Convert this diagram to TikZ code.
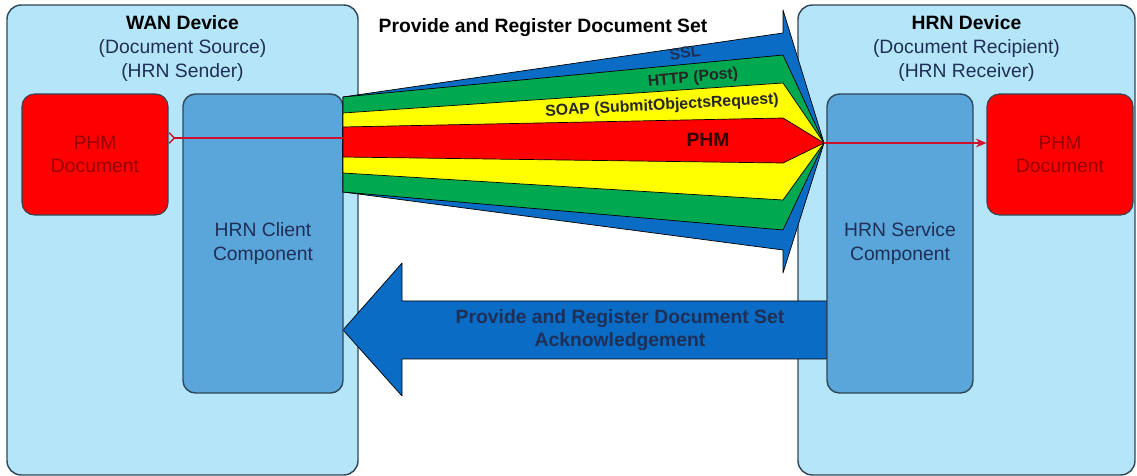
\documentclass[tikz,border=0pt]{standalone}
\usepackage{fontspec}
\setmainfont{Liberation Sans}
\usepackage{xcolor}
\usepackage{tikz}
\usetikzlibrary{arrows.meta, positioning, calc}

\definecolor{devblue}{HTML}{B5E5F9}
\definecolor{compblue}{HTML}{5AA5DA}
\definecolor{edgegray}{HTML}{2E4656}
\definecolor{sslblue}{HTML}{0A6CC4}
\definecolor{httpgreen}{HTML}{00A850}
\definecolor{soapyellow}{HTML}{FFFF00}
\definecolor{phmred}{HTML}{FF0000}
\definecolor{navytext}{HTML}{1F2F55}
\definecolor{docred}{HTML}{950000}
\definecolor{wirered}{HTML}{D0102A}

\newcommand{\bodyfont}{\fontsize{11}{13.6}\selectfont}

\begin{document}
\begin{tikzpicture}[
  x=0.02cm, y=-0.02cm,
  font=\bodyfont,
  device/.style = {rectangle, draw=edgegray, line width=0.8pt, fill=devblue,
                   rounded corners=8pt, inner sep=0pt},
  comp/.style   = {rectangle, draw=edgegray, line width=0.8pt, fill=compblue,
                   rounded corners=7pt, minimum height=5.98cm, align=center,
                   text=navytext, inner sep=0pt},
  doc/.style    = {rectangle, draw=edgegray, line width=0.6pt, fill=phmred,
                   rounded corners=7pt, minimum width=2.92cm, minimum height=2.42cm,
                   align=center, text=docred},
  devlbl/.style = {anchor=north, align=center, text=navytext, inner sep=3pt,
                   yshift=-0.11cm},
  head/.style   = {font=\bodyfont\bfseries},
  proto/.style  = {font=\fontsize{9}{11}\selectfont\bfseries, inner sep=0pt},
  band/.style   = {draw=black, line width=0.4pt, line join=round},
  wire/.style   = {draw=wirered, line width=0.8pt}
]
  \useasboundingbox (0,0) rectangle (1137,476);

  % devices
  \node[device, minimum width=7.02cm, minimum height=9.4cm] (wan) at (182.5,240)
       {};
  \node[devlbl] at (wan.north) {\textcolor{black}{\bfseries WAN Device}\\(Document Source)\\(HRN Sender)};
  \node[device, minimum width=6.74cm, minimum height=9.4cm] (hrn) at (966.5,240)
       {};
  \node[devlbl] at (hrn.north) {\textcolor{black}{\bfseries HRN Device}\\(Document Recipient)\\(HRN Receiver)};

  \node[head] (title) at (543,28) {Provide and Register Document Set};

  % acknowledgement arrow
  \fill[sslblue, band] (827,301) -- (402,301) -- (402,263) -- (343,330)
       -- (402,396) -- (402,359) -- (827,359) -- cycle;
  \node[head, align=center, text=navytext] (ack) at (620,330)
       {Provide and Register Document Set\\Acknowledgement};

  % components
  \node[comp, minimum width=3.2cm] (client) at (263,243.5) {HRN Client\\Component};
  \node[comp, minimum width=2.92cm] (service) at (900,243.5) {HRN Service\\Component};
  \node[doc] (ldoc) at (95,154.5) {PHM\\Document};
  \node[doc] (rdoc) at (1060,154.5) {PHM\\Document};

  % nested transport arrow
  \coordinate (tip) at (824,143);
  \coordinate (feed) at (343,138);
  \fill[sslblue, band] (343,97) -- (783,33) -- (783,10) -- (tip) -- (783,273)
       -- (783,250) -- (343,192) -- cycle;
  \foreach \col/\tl/\tr/\br/\bl in {httpgreen/97/55/230/192,
                                    soapyellow/113/83/200/173,
                                    phmred/127/118/163/157}
    \fill[\col, band] (343,\tl) -- (783,\tr) -- (tip) -- (783,\br) -- (343,\bl) -- cycle;

  \node[proto, text=navytext, rotate=7] (ssl) at (685,53) {SSL};
  \node[proto, text=black!85, rotate=5] (http) at (693,78) {HTTP (Post)};
  \node[proto, text=black!85, rotate=3] (soap) at (662,106) {SOAP (SubmitObjectsRequest)};
  \node[head, text=black!80!red] (phm) at (708,140) {PHM};

  % document flow
  \draw[wire, {Straight Barb[reversed, length=3pt, width=6pt]}-] (ldoc.east |- feed) -- (feed);
  \draw[wire, -{Stealth[length=6pt, width=5pt]}] (tip) -- (rdoc.west |- tip);
\end{tikzpicture}
\end{document}
